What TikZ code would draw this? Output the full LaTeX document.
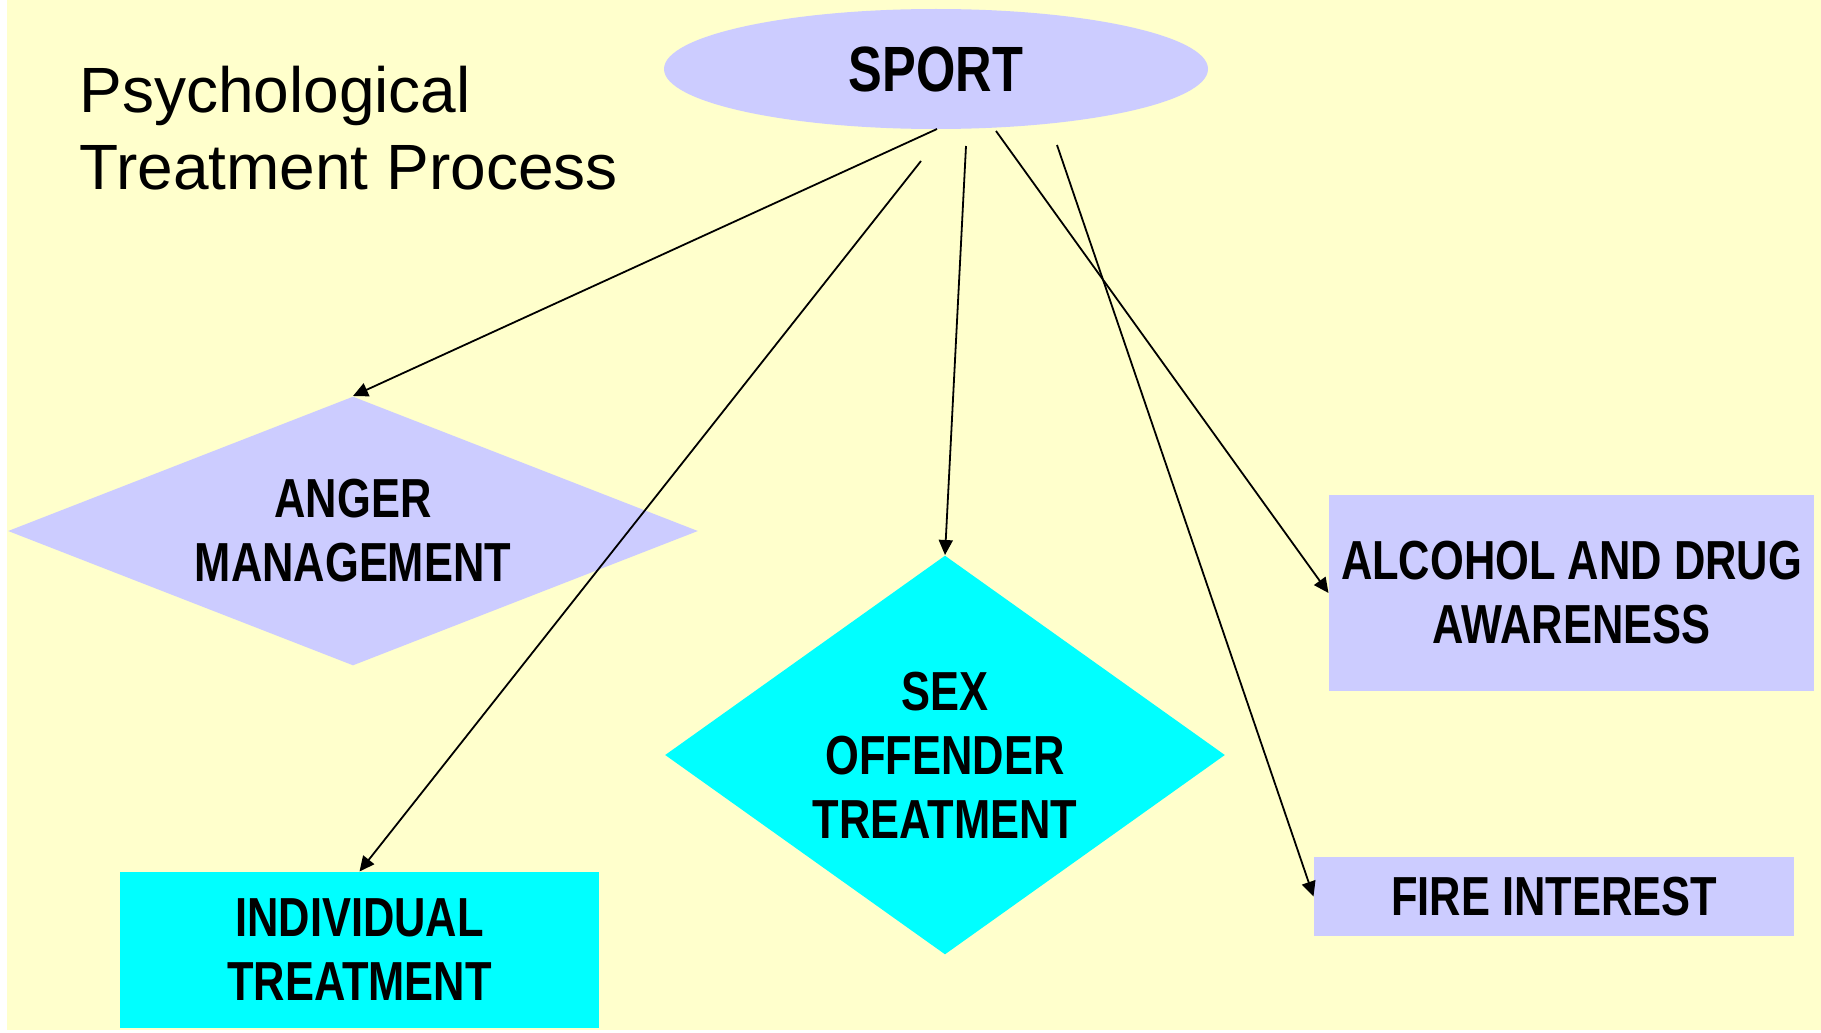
\documentclass[tikz,border=0pt]{standalone}
\usepackage{fontspec}
\setmainfont{Liberation Sans}
\newfontfamily\narrowfont[FakeStretch=0.79]{Liberation Sans}
\usetikzlibrary{shapes.geometric,arrows.meta}
\definecolor{slidebg}{HTML}{FFFFCC}
\definecolor{lavender}{HTML}{CCCCFF}
\definecolor{aqua}{HTML}{00FFFF}
\tikzset{every picture/.style={line width=1pt}}
\tikzset{
  boxlabel/.style={font=\narrowfont\bfseries\fontsize{55}{64}\selectfont, align=center, inner sep=0pt, text=black},
  link/.style={draw=black, line width=1.8pt, -{Triangle[length=15pt,width=14pt]}}
}

\begin{document}
\begin{tikzpicture}[x=1pt,y=1pt,yscale=-1,xscale=1]
%set diagram to the slide size
\fill[white] (0,0) rectangle (1821,1033);
\fill[slidebg] (7,0) rectangle (1821,1030);
\useasboundingbox (0,0) rectangle (1821,1033);

% Text Node
\node (title) [anchor=north west, inner sep=0pt, align=left, font=\fontsize{64}{77}\selectfont] at (79,66) {Psychological\\Treatment Process};

%Shape: Ellipse
\node (sport) [ellipse, fill=lavender, minimum width=544pt, minimum height=120pt, boxlabel, font=\narrowfont\bfseries\fontsize{64}{70}\selectfont] at (936,69) {SPORT};
%Shape: Diamond
\node (anger) [diamond, aspect=2.565, fill=lavender, minimum width=690pt, minimum height=269pt, boxlabel] at (353,531) {ANGER\\MANAGEMENT};
%Shape: Diamond
\node (sex) [diamond, aspect=1.40, fill=aqua, minimum width=560pt, minimum height=399pt, boxlabel] at (945,755) {SEX\\OFFENDER\\TREATMENT};
%Shape: Rectangle
\node (indiv) [rectangle, fill=aqua, minimum width=479pt, minimum height=156pt, boxlabel] at (359.5,950) {INDIVIDUAL\\TREATMENT};
%Shape: Rectangle
\node (alcohol) [rectangle, fill=lavender, minimum width=485pt, minimum height=196pt, boxlabel] at (1571.5,593) {ALCOHOL AND DRUG\\AWARENESS};
%Shape: Rectangle
\node (fire) [rectangle, fill=lavender, minimum width=480pt, minimum height=79pt, boxlabel] at (1554,896.5) {FIRE INTEREST};

%arrow start points below the ellipse
\coordinate (fromanger) at (937,129);
\coordinate (fromindiv) at (921,161);
\coordinate (fromsex) at (966,146);
\coordinate (fromalcohol) at (996,131);
\coordinate (fromfire) at (1057,145);

%Arrows
\draw [link] (fromanger) -- (anger.north);
\draw [link] (fromindiv) -- (indiv.north);
\draw [link] (fromsex) -- (sex.north);
\draw [link] (fromalcohol) -- (alcohol.west);
\draw [link] (fromfire) -- (fire.west);

\end{tikzpicture}
\end{document}
